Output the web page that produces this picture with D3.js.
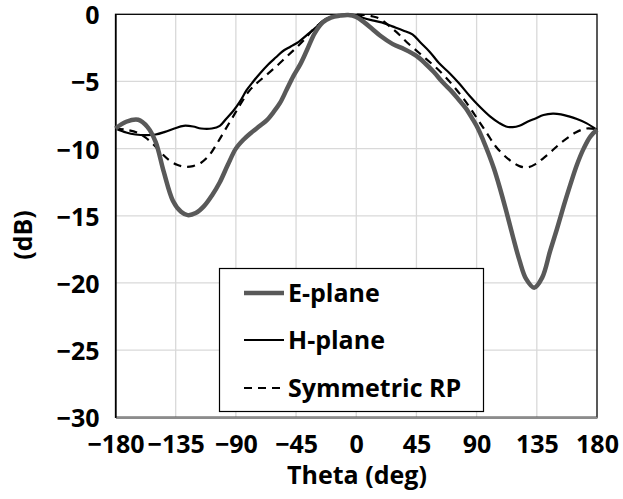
<!DOCTYPE html>
<html>
<head>
<meta charset="utf-8">
<script src="https://cdn.jsdelivr.net/npm/d3@7"></script>
<style>
  html, body { margin: 0; padding: 0; background: #fff; }
  svg { display: block; }
  text { font-family: "Open Sans", "DejaVu Sans", sans-serif; font-weight: 700; fill: #000; }
</style>
</head>
<body>
<svg id="chart" width="623" height="499"></svg>
<script>
// ---- Data ----
const xTicks = [-180, -135, -90, -45, 0, 45, 90, 135, 180];
const yTicks = [0, -5, -10, -15, -20, -25, -30];

const eTheta = [-180,-172,-163,-156,-150,-144,-137,-131,-126,-120,-114,-108,-102,-96,-90,-84,-79,-72,-67,-62,-57,-52,-47,-42,-37,-31,-25,-19,-12,-6,0,6,12,18,27,36,45,52,58,65,71,77,82,87,91,95,99,103,107,112,117,122,127,133,139,145,150,155,160,165,170,175,180];
const eDb    = [-8.5,-8.0,-7.85,-8.4,-9.5,-11.7,-13.9,-14.7,-14.95,-14.8,-14.3,-13.5,-12.5,-11.2,-10.0,-9.3,-8.85,-8.3,-7.9,-7.3,-6.6,-5.6,-4.6,-3.75,-2.7,-1.4,-0.6,-0.25,-0.1,-0.05,-0.2,-0.6,-1.1,-1.6,-2.2,-2.6,-3.1,-3.7,-4.3,-5.1,-5.7,-6.4,-7.0,-7.8,-8.5,-9.4,-10.4,-11.5,-12.8,-14.6,-16.5,-18.3,-19.7,-20.35,-19.6,-17.6,-16.0,-14.3,-12.7,-11.2,-10.0,-9.1,-8.6];

const hTheta = [-180,-172,-165,-157,-150,-143,-136,-129,-122,-116,-108,-102,-97,-92,-87,-82,-77,-72,-66,-60,-55,-49,-43,-37,-31,-25,-19,-12,-5,0,6,12,19,27,35,42,48,55,62,70,77,85,92,100,107,112,117,122,128,134,140,147,153,159,165,172,180];
const hDb    = [-8.5,-8.8,-8.95,-9.0,-8.95,-8.75,-8.5,-8.3,-8.35,-8.5,-8.5,-8.3,-7.75,-7.2,-6.5,-5.65,-5.0,-4.4,-3.75,-3.2,-2.75,-2.4,-2.05,-1.55,-1.05,-0.5,-0.18,-0.06,-0.02,-0.05,-0.3,-0.45,-0.6,-0.9,-1.2,-1.5,-2.1,-2.8,-3.65,-4.4,-5.15,-6.1,-6.85,-7.6,-8.1,-8.35,-8.4,-8.3,-8.0,-7.75,-7.5,-7.4,-7.45,-7.6,-7.8,-8.1,-8.6];

const sTheta = [-180,-172,-164,-158,-152,-146,-140,-134,-128,-122,-116,-110,-104,-98,-92,-86,-80,-74,-67,-60,-52,-45,-38,-32,-25,-18,-10,-4,0,6,12,18,25,32,38,45,52,60,67,74,80,86,92,98,104,110,116,122,128,134,140,146,152,158,164,172,180];
const sDb    = [-8.5,-8.6,-8.8,-9.15,-9.65,-10.3,-10.85,-11.2,-11.35,-11.3,-11.05,-10.5,-9.6,-8.6,-7.6,-6.6,-5.7,-5.1,-4.5,-3.9,-3.15,-2.5,-1.8,-1.1,-0.55,-0.2,-0.05,0,-0.02,-0.05,-0.15,-0.35,-0.9,-1.5,-2.1,-2.7,-3.3,-4.0,-4.7,-5.5,-6.25,-7.1,-8.0,-8.9,-9.8,-10.45,-10.95,-11.3,-11.4,-11.15,-10.7,-10.2,-9.65,-9.2,-8.8,-8.5,-8.55];

const seriesNames = ["E-plane", "H-plane", "Symmetric RP"];

// ---- Layout ----
const svg = d3.select("#chart");
const pLeft = 115.5, pRight = 597, pTop = 14.3, pBottom = 417.3;

const x = d3.scaleLinear().domain([-180, 180]).range([pLeft, pRight]);
const y = d3.scaleLinear().domain([-30, 0]).range([pBottom, pTop]);

const fmt = v => v < 0 ? "\u2212" + Math.abs(v) : String(v);

// gridlines
svg.append("g").selectAll("line").data(xTicks.slice(1, -1)).join("line")
  .attr("x1", d => x(d)).attr("x2", d => x(d))
  .attr("y1", pTop).attr("y2", pBottom)
  .attr("stroke", "#d9d9d9").attr("stroke-width", 1.3);
svg.append("g").selectAll("line").data(yTicks.slice(1, -1)).join("line")
  .attr("x1", pLeft).attr("x2", pRight)
  .attr("y1", d => y(d)).attr("y2", d => y(d))
  .attr("stroke", "#d9d9d9").attr("stroke-width", 1.3);

// frame
svg.append("rect").attr("x", pLeft).attr("y", pTop)
  .attr("width", pRight - pLeft).attr("height", pBottom - pTop)
  .attr("fill", "none").attr("stroke", "#000").attr("stroke-width", 1.3);

// axes (labels via d3 axes)
const xAxis = d3.axisBottom(x).tickValues(xTicks).tickSize(0).tickFormat(fmt);
const gx = svg.append("g").attr("transform", `translate(0,${pBottom})`).call(xAxis);
gx.select(".domain").attr("stroke", "#8c8c8c").attr("stroke-width", 2.2);
gx.selectAll("text").attr("font-size", 25).attr("dy", 0).attr("y", 36)
  .style("font-family", '"Open Sans", sans-serif').style("font-weight", 700).attr("fill", "#000");

const yAxis = d3.axisLeft(y).tickValues(yTicks).tickSize(0).tickFormat(fmt);
const gy = svg.append("g").attr("transform", `translate(${pLeft},0)`).call(yAxis);
gy.select(".domain").attr("stroke", "#000").attr("stroke-width", 1.3);
gy.selectAll("text").attr("font-size", 25).attr("x", -16).attr("dy", "0.38em")
  .style("font-family", '"Open Sans", sans-serif').style("font-weight", 700).attr("fill", "#000");

// axis titles
svg.append("text").attr("x", 357).attr("y", 484).attr("text-anchor", "middle")
  .attr("font-size", 25).text("Theta (deg)");
svg.append("text").attr("transform", "translate(32,235) rotate(-90)")
  .attr("text-anchor", "middle").attr("font-size", 25).text("(dB)");

// series
const line = d3.line().x(d => x(d[0])).y(d => y(d[1])).curve(d3.curveCatmullRom.alpha(0.5));

const plot = svg.append("g");
plot.append("path").datum(sTheta.map((t, i) => [t, sDb[i]]))
  .attr("d", line).attr("fill", "none").attr("stroke", "#000")
  .attr("stroke-width", 2.2).attr("stroke-dasharray", "8,6");
plot.append("path").datum(hTheta.map((t, i) => [t, hDb[i]]))
  .attr("d", line).attr("fill", "none").attr("stroke", "#000")
  .attr("stroke-width", 2.2);
plot.append("path").datum(eTheta.map((t, i) => [t, eDb[i]]))
  .attr("d", line).attr("fill", "none").attr("stroke", "#595959")
  .attr("stroke-width", 4.5).attr("stroke-linejoin", "round");

// legend
const lg = svg.append("g");
lg.append("rect").attr("x", 219.5).attr("y", 268.5).attr("width", 264).attr("height", 143)
  .attr("fill", "#fff").attr("stroke", "#000").attr("stroke-width", 1.2);
const legendY = [293, 340, 388];
const legendStyles = [
  { stroke: "#595959", w: 4.5, dash: null },
  { stroke: "#000", w: 2.2, dash: null },
  { stroke: "#000", w: 2.2, dash: "8,6" }
];
seriesNames.forEach((name, i) => {
  lg.append("line").attr("x1", 244).attr("x2", 284)
    .attr("y1", legendY[i]).attr("y2", legendY[i])
    .attr("stroke", legendStyles[i].stroke).attr("stroke-width", legendStyles[i].w)
    .attr("stroke-dasharray", legendStyles[i].dash);
  lg.append("text").attr("x", 288).attr("y", legendY[i]).attr("dy", "0.36em")
    .attr("font-size", 25).text(name);
});
</script>
</body>
</html>
